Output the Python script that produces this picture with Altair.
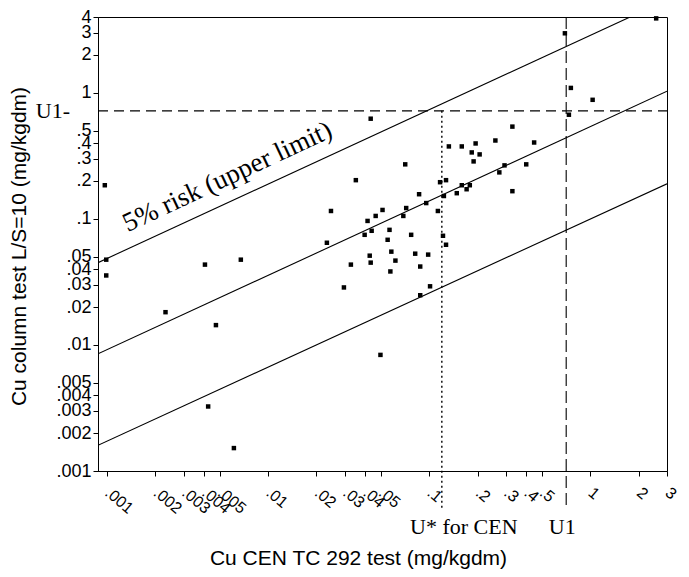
import altair as alt
import pandas as pd

# ---- scatter data ----
x_vals = [0.00097, 0.00099, 0.00099, 0.00231, 0.00406, 0.00475, 0.00425, 0.00614, 0.00678,
          0.0232, 0.0246, 0.0296, 0.0327, 0.0351, 0.0398, 0.0440, 0.0415, 0.0466, 0.0514,
          0.0434, 0.0428, 0.0434, 0.0499, 0.0568, 0.0553, 0.0583, 0.0618, 0.0575, 0.0692,
          0.0721, 0.0711, 0.0774, 0.0820, 0.0867, 0.0881, 0.0881, 0.0960, 0.0987, 0.1014,
          0.1134, 0.117, 0.1274, 0.122, 0.1274, 0.1236, 0.1327, 0.1596, 0.1945, 0.258,
          0.449, 0.184, 0.206, 0.189, 0.294, 0.401, 0.273, 0.329, 0.329, 0.1596, 0.179,
          0.171, 0.1486, 0.697, 0.759, 1.036, 0.738, 2.57]
y_vals = [0.185, 0.0475, 0.0356, 0.0182, 0.0434, 0.01437, 0.00325, 0.00152, 0.0475,
          0.0647, 0.1156, 0.0286, 0.0434, 0.203, 0.0748, 0.0805, 0.0964, 0.1056, 0.1178,
          0.624, 0.0511, 0.0450, 0.00834, 0.0819, 0.0683, 0.0550, 0.0467, 0.0383, 0.1056,
          0.122, 0.271, 0.0748, 0.0530, 0.157, 0.0419, 0.0248, 0.1336, 0.0521, 0.0292,
          0.1156, 0.1956, 0.203, 0.0735, 0.0624, 0.152, 0.376, 0.376, 0.397, 0.419,
          0.404, 0.337, 0.325, 0.286, 0.266, 0.271, 0.234, 0.166, 0.540, 0.185, 0.185,
          0.172, 0.160, 2.97, 1.095, 0.881, 0.671, 3.9]

# ---- the three parallel reference lines (end points) ----
line_names = ["upper", "middle", "lower"]
line_x_start = [0.00088, 0.00088, 0.00088]
line_y_start = [0.045, 0.0085, 0.0016]
line_x_end = [1.77, 3.0, 3.0]
line_y_end = [4.0, 1.03, 0.19]

# ---- reference levels ----
u1_level_y = 0.72
u1_level_x = 0.71
u_star = 0.12

x_ticks = [0.001, 0.002, 0.003, 0.004, 0.005, 0.01, 0.02, 0.03, 0.04, 0.05,
           0.1, 0.2, 0.3, 0.4, 0.5, 1, 2, 3]
y_ticks = [4, 3, 2, 1, 0.5, 0.4, 0.3, 0.2, 0.1, 0.05, 0.04, 0.03, 0.02, 0.01,
           0.005, 0.004, 0.003, 0.002, 0.001]

x_domain = [0.00088, 3]
y_domain = [0.001, 4]

W, H = 569, 454
SERIF = "Liberation Serif"
SANS = "Liberation Sans"

label_expr = "datum.value < 1 ? slice(toString(datum.value), 1) : toString(datum.value)"

xscale = alt.Scale(type="log", domain=x_domain, nice=False)
yscale = alt.Scale(type="log", domain=y_domain, nice=False)

xaxis = alt.Axis(values=x_ticks, labelExpr=label_expr, labelAngle=40, labelAlign="left",
                 labelBaseline="top", labelFontSize=16, labelOverlap=False, labelFlush=False,
                 labelPadding=8, labelOffset=5, tickSize=5, grid=False,
                 title="Cu CEN TC 292 test (mg/kgdm)", titleFontSize=21,
                 titleFontWeight="normal", titleX=260, titleY=93, titleAlign="center",
                 titleBaseline="alphabetic")
yaxis = alt.Axis(values=y_ticks, labelExpr=label_expr, labelFontSize=18, labelOverlap=False,
                 tickSize=5, labelPadding=2, grid=False,
                 title="Cu column test L/S=10 (mg/kgdm)", titleFontSize=21,
                 titleFontWeight="normal", titleAngle=270, titleX=-73, titleY=229,
                 titleAlign="center", titleBaseline="alphabetic")


def X():
    return alt.X("x:Q", scale=xscale, axis=xaxis)


def Y():
    return alt.Y("y:Q", scale=yscale, axis=yaxis)


rows = []
for n, xs, ys, xe, ye in zip(line_names, line_x_start, line_y_start, line_x_end, line_y_end):
    rows.append({"name": n, "x": xs, "y": ys})
    rows.append({"name": n, "x": xe, "y": ye})
df_lines = pd.DataFrame(rows)
df_pts = pd.DataFrame({"x": x_vals, "y": y_vals})

lines = alt.Chart(df_lines).mark_line(color="black", strokeWidth=1.1, clip=True).encode(
    x=X(), y=Y(), detail="name:N")

points = alt.Chart(df_pts).mark_square(color="black", filled=True, size=20, opacity=1).encode(
    x=X(), y=Y())

h_u1 = alt.Chart(pd.DataFrame({"y": [u1_level_y]})).mark_rule(
    color="black", strokeWidth=1.1, strokeDash=[10, 6]).encode(
    y=Y(), x=alt.value(0), x2=alt.value(W))

v_u1 = alt.Chart(pd.DataFrame({"x": [u1_level_x]})).mark_rule(
    color="black", strokeWidth=1.1, strokeDash=[12, 5]).encode(
    x=X(), y=alt.value(0), y2=alt.value(H + 37))

v_ustar = alt.Chart(pd.DataFrame({"x": [u_star], "y": [u1_level_y]})).mark_rule(
    color="black", strokeWidth=1.4, strokeDash=[2, 3]).encode(
    x=X(), y=Y(), y2=alt.value(H + 37))

risk_text = alt.Chart(pd.DataFrame({"x": [0.0056], "y": [0.215]})).mark_text(
    text="5% risk (upper limit)", font=SERIF, fontSize=27, angle=335,
    align="center", baseline="middle", color="black").encode(x=X(), y=Y())

u1_left = alt.Chart(pd.DataFrame({"x": [x_domain[0]], "y": [u1_level_y]})).mark_text(
    text="U1-", font=SERIF, fontSize=22, align="right", baseline="middle", dx=-28,
    color="black").encode(x=X(), y=Y())

ustar_lab = alt.Chart(pd.DataFrame({"x": [u_star]})).mark_text(
    text="U* for CEN", font=SERIF, fontSize=22, align="center", baseline="middle", dx=22,
    color="black").encode(x=X(), y=alt.value(H + 56))

u1_bottom = alt.Chart(pd.DataFrame({"x": [u1_level_x]})).mark_text(
    text="U1", font=SERIF, fontSize=22, align="center", baseline="middle", dx=-4,
    color="black").encode(x=X(), y=alt.value(H + 56))

chart = alt.layer(lines, h_u1, v_u1, v_ustar, points, risk_text, u1_left, ustar_lab,
                  u1_bottom).properties(
    width=W, height=H,
    padding={"left": 90, "top": 9, "right": 14, "bottom": 98},
    autosize=alt.AutoSizeParams(type="none"),
    background="white",
).configure_view(stroke="black", strokeWidth=1).configure_axis(
    domainColor="black", tickColor="black", labelColor="black", titleColor="black",
    labelFont=SANS, titleFont=SANS, domainWidth=1, tickWidth=1)

chart.save("out.html", embed_options={"renderer": "svg", "actions": False})
